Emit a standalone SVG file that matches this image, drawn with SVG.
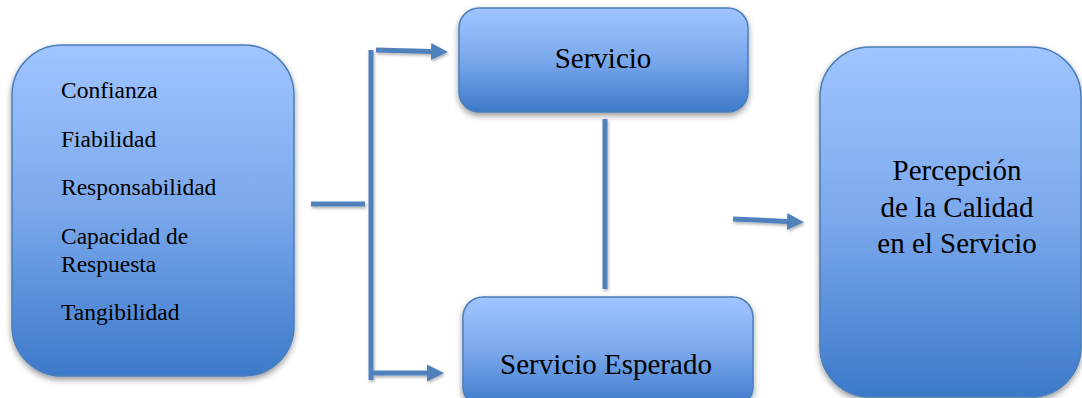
<svg xmlns="http://www.w3.org/2000/svg" width="1082" height="398" viewBox="0 0 1082 398">
  <style>
    .box { fill: url(#g); stroke: #4a7ebb; stroke-width: 1.5; filter: url(#sh); }
    text { font-family: 'Liberation Serif', 'DejaVu Serif', serif; fill: #000; }
    .conn { stroke: #4f81bd; stroke-width: 5; fill: none; }
  </style>
  <defs>
    <linearGradient id="g" x1="0" y1="0" x2="0" y2="1">
      <stop offset="0" stop-color="#a0c5ff"/>
      <stop offset="0.5" stop-color="#7aa8ec"/>
      <stop offset="1" stop-color="#3c79c9"/>
    </linearGradient>
    <filter id="sh" x="-10%" y="-10%" width="125%" height="125%">
      <feGaussianBlur in="SourceAlpha" stdDeviation="3"/>
      <feOffset dx="0" dy="3" result="b"/>
      <feComponentTransfer><feFuncA type="linear" slope="0.4"/></feComponentTransfer>
      <feMerge><feMergeNode/><feMergeNode in="SourceGraphic"/></feMerge>
    </filter>
    <filter id="lsh" filterUnits="userSpaceOnUse" x="0" y="0" width="1082" height="398">
      <feGaussianBlur in="SourceAlpha" stdDeviation="1.5"/>
      <feOffset dx="1" dy="2" result="b"/>
      <feComponentTransfer><feFuncA type="linear" slope="0.3"/></feComponentTransfer>
      <feMerge><feMergeNode/><feMergeNode in="SourceGraphic"/></feMerge>
    </filter>
    <marker id="ah" markerUnits="userSpaceOnUse" markerWidth="18" markerHeight="17" refX="0" refY="8.5" orient="auto">
      <path d="M0,0 L17,8.5 L0,17 Z" fill="#4f81bd"/>
    </marker>
  </defs>

  <g id="node-dimensiones">
    <rect class="box" x="12" y="45" width="282" height="331" rx="50" ry="50"/>
    <text x="61" y="98" font-size="23.5" font-family="Liberation Serif, serif">Confianza</text>
    <text x="61" y="147" font-size="23.5" font-family="Liberation Serif, serif">Fiabilidad</text>
    <text x="61" y="195" font-size="23.5" font-family="Liberation Serif, serif">Responsabilidad</text>
    <text x="61" y="244" font-size="23.5" font-family="Liberation Serif, serif">Capacidad de</text>
    <text x="61" y="272" font-size="23.5" font-family="Liberation Serif, serif">Respuesta</text>
    <text x="61" y="320" font-size="23.5" font-family="Liberation Serif, serif">Tangibilidad</text>
  </g>

  <g id="node-servicio">
    <rect class="box" x="459" y="8" width="289" height="104" rx="20" ry="20"/>
    <text x="603" y="68" font-size="29" text-anchor="middle" font-family="Liberation Serif, serif">Servicio</text>
  </g>

  <g id="node-servicio-esperado">
    <rect class="box" x="463" y="297" width="290" height="110" rx="20" ry="20"/>
    <text x="606" y="374" font-size="29" text-anchor="middle" font-family="Liberation Serif, serif">Servicio Esperado</text>
  </g>

  <g id="node-percepcion">
    <rect class="box" x="820" y="47" width="261" height="350" rx="50" ry="50"/>
    <text x="957" y="180" font-size="29" text-anchor="middle" font-family="Liberation Serif, serif">Percepción</text>
    <text x="957" y="217" font-size="29" text-anchor="middle" font-family="Liberation Serif, serif">de la Calidad</text>
    <text x="957" y="253" font-size="29" text-anchor="middle" font-family="Liberation Serif, serif">en el Servicio</text>
  </g>

  <g id="connectors" filter="url(#lsh)">
    <line class="conn" x1="311" y1="204" x2="365" y2="204"/>
    <line class="conn" x1="371" y1="50" x2="371" y2="380"/>
    <line class="conn" x1="376" y1="50" x2="431" y2="51.5" marker-end="url(#ah)"/>
    <line class="conn" x1="373" y1="373" x2="427" y2="373" marker-end="url(#ah)"/>
    <line class="conn" x1="605" y1="119" x2="605" y2="289"/>
    <line class="conn" x1="733" y1="219" x2="787" y2="221.5" marker-end="url(#ah)"/>
  </g>
</svg>
